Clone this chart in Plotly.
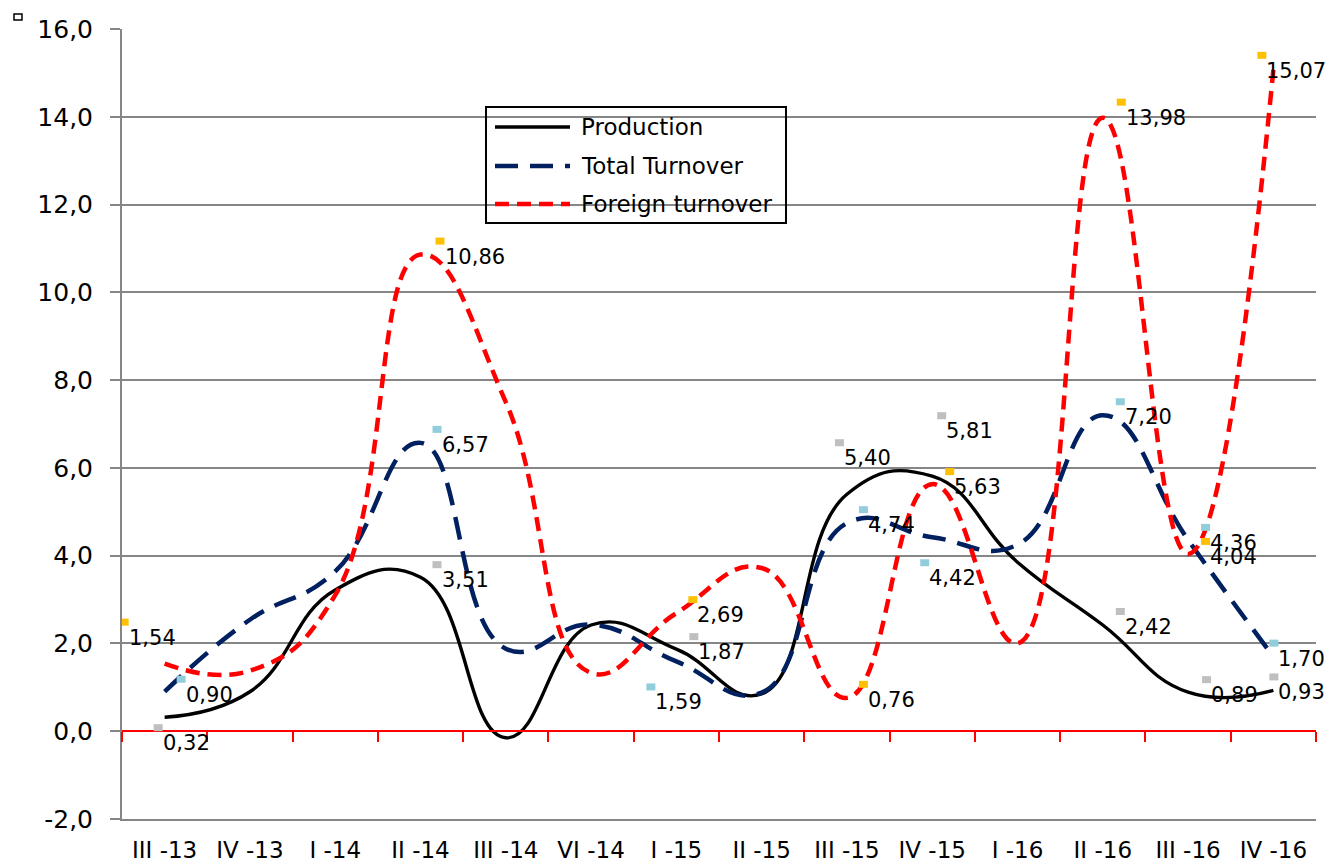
import plotly.graph_objects as go

# ---------------- data ----------------
categories = ["III -13", "IV -13", "I -14", "II -14", "III -14", "VI -14", "I -15",
              "II -15", "III -15", "IV -15", "I -16", "II -16", "III -16", "IV -16"]
production = [0.32, 0.90, 3.22, 3.51, -0.15, 2.42, 1.87, 0.85, 5.40, 5.81, 3.85, 2.42, 0.89, 0.93]
total_turnover = [0.90, 2.54, 3.64, 6.57, 1.88, 2.43, 1.59, 0.88, 4.74, 4.42, 4.25, 7.20, 4.36, 1.70]
foreign_turnover = [1.54, 1.38, 3.10, 10.86, 7.50, 1.33, 2.69, 3.72, 0.76, 5.63, 2.00, 13.98, 4.04, 15.07]
series_names = ["Production", "Total Turnover", "Foreign turnover"]
labelled_points = [0, 3, 6, 8, 9, 11, 12, 13]
y_tick_values = [-2, 0, 2, 4, 6, 8, 10, 12, 14, 16]
y_tick_labels = ["-2,0", "0,0", "2,0", "4,0", "6,0", "8,0", "10,0", "12,0", "14,0", "16,0"]

# ---------------- styles / positions ----------------
W, H = 1333, 866
L, R, T, B = 122, 17, 29, 47
PW, PH = W - L - R, H - T - B
FONT = "DejaVu Sans"
GRID = "#868686"

line_styles = [
    dict(color="#000000", width=3.4, dash="solid"),
    dict(color="#002060", width=4.5, dash="23px,12px"),
    dict(color="#FF0000", width=4.5, dash="14px,8px"),
]
key_colors = ["#BFBFBF", "#92CDDC", "#FFC000"]
# label offsets (text left, text centre) in screen pixels from the data point
label_offsets = [
    [(-1, 26), (22, 3), (23, 3), (-2, -36), (15, -45), (23, 2), (24, 3), (6, 2)],
    [(22, 3), (22, 2), (-20, 41), (22, 2), (-2, 41), (23, 2), (23, 3), (6, 2)],
    [(-35, -26), (25, 2), (22, 2), (22, 2), (23, 3), (24, 0), (23, 3), (-6, 1)],
]


def px2x(px):
    return (px - L) / PW


def px2y(py):
    return (H - B - py) / PH


def fmt(v):
    return f"{v:.2f}".replace(".", ",")


series_values = [production, total_turnover, foreign_turnover]

fig = go.Figure()
for name, vals, st in zip(series_names, series_values, line_styles):
    fig.add_trace(go.Scatter(
        x=categories, y=vals, name=name, mode="lines",
        line=dict(color=st["color"], width=st["width"], dash=st["dash"],
                  shape="spline", smoothing=1.3),
        showlegend=False, hoverinfo="x+y+name",
    ))

# invisible trace to carry the red zero axis with its tick marks
fig.add_trace(go.Scatter(x=categories, y=[None] * len(categories), xaxis="x2",
                         showlegend=False, hoverinfo="skip"))

annotations = []
shapes = []
for s, vals in enumerate(series_values):
    for (i, (dx, dy)) in zip(labelled_points, label_offsets[s]):
        annotations.append(dict(
            x=categories[i], y=vals[i], xref="x", yref="y",
            text=fmt(vals[i]), showarrow=False,
            xanchor="left", yanchor="middle",
            xshift=dx - 3, yshift=-dy,
            font=dict(family=FONT, size=21, color="#000000"),
        ))
        shapes.append(dict(
            type="rect", xref="x", yref="y",
            xsizemode="pixel", ysizemode="pixel",
            xanchor=categories[i], yanchor=vals[i],
            x0=dx - 10, x1=dx - 1, y0=12 - dy, y1=19 - dy,
            fillcolor=key_colors[s], line=dict(width=0), layer="above",
        ))

# custom legend
legend_box = (486, 107, 786, 223)
legend_rows = [127, 166, 204]
shapes.append(dict(type="rect", xref="paper", yref="paper",
                   x0=px2x(legend_box[0]), x1=px2x(legend_box[2]),
                   y0=px2y(legend_box[3]), y1=px2y(legend_box[1]),
                   line=dict(color="#000000", width=2), fillcolor="rgba(0,0,0,0)",
                   layer="above"))
for name, st, yc in zip(series_names, line_styles, legend_rows):
    shapes.append(dict(type="line", xref="paper", yref="paper",
                       x0=px2x(495), x1=px2x(570), y0=px2y(yc), y1=px2y(yc),
                       line=dict(color=st["color"], width=st["width"], dash=st["dash"]),
                       layer="above"))
    annotations.append(dict(x=px2x(579), y=px2y(yc), xref="paper", yref="paper",
                            text=name, showarrow=False, xanchor="left", yanchor="middle",
                            font=dict(family=FONT, size=23, color="#000000")))

# small hollow square in the top-left corner
shapes.append(dict(type="rect", xref="paper", yref="paper",
                   x0=px2x(14), x1=px2x(22), y0=px2y(20), y1=px2y(14),
                   line=dict(color="#000000", width=1.5), fillcolor="#FFFFFF"))

fig.update_layout(
    template="none",
    width=W, height=H, autosize=False,
    margin=dict(l=L, r=R, t=T, b=B, autoexpand=False),
    paper_bgcolor="#FFFFFF", plot_bgcolor="rgba(0,0,0,0)",
    separators=", ",
    font=dict(family=FONT, color="#000000"),
    showlegend=False,
    annotations=annotations,
    shapes=shapes,
    xaxis=dict(
        type="category", categoryorder="array", categoryarray=categories,
        range=[-0.5, len(categories) - 0.5], automargin=False,
        showgrid=False, zeroline=False, showline=True, linecolor=GRID, linewidth=2,
        ticks="", tickfont=dict(family=FONT, size=23, color="#000000"),
        ticklabelstandoff=9,
    ),
    xaxis2=dict(
        type="category", categoryorder="array", categoryarray=categories,
        range=[-0.5, len(categories) - 0.5], overlaying="x", anchor="free",
        position=(0 - y_tick_values[0]) / (y_tick_values[-1] - y_tick_values[0]),
        showgrid=False, zeroline=False, showline=True, linecolor="#FF0000", linewidth=2,
        ticks="outside", tickson="boundaries", ticklen=10, tickwidth=2, tickcolor="#FF0000",
        showticklabels=False, automargin=False,
    ),
    yaxis=dict(
        range=[y_tick_values[0], y_tick_values[-1]], automargin=False,
        tickmode="array", tickvals=y_tick_values, ticktext=y_tick_labels,
        showgrid=True, gridcolor=GRID, gridwidth=2, zeroline=False,
        showline=True, linecolor=GRID, linewidth=2,
        ticks="outside", ticklen=10, tickwidth=2, tickcolor=GRID,
        tickfont=dict(family=FONT, size=25, color="#000000"),
        ticklabelstandoff=12,
    ),
)

fig.write_html("out.html")
